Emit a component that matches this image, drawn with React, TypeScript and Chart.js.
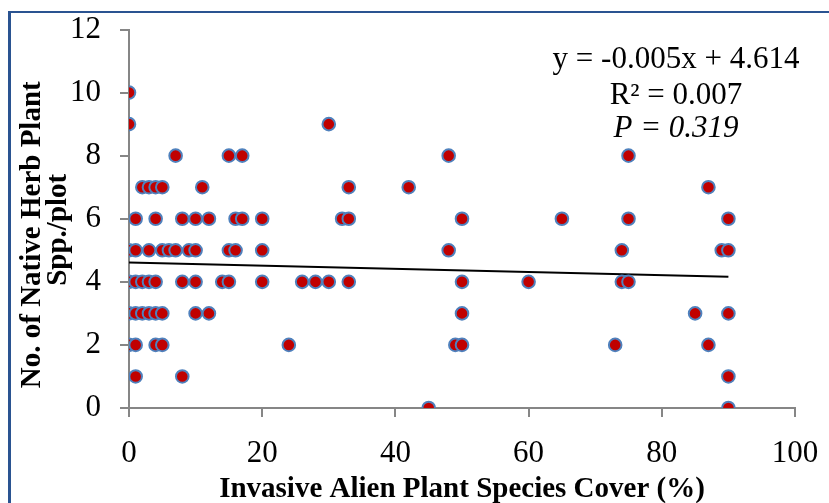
import React, { useEffect, useRef } from "react";
import { Chart, registerables } from "chart.js";

Chart.register(...registerables);

// Invasive alien plant cover (%) of each plot, grouped by its native herb count
const coverAt10 = [0];
const coverAt9 = [0, 30];
const coverAt8 = [7, 15, 17, 48, 75];
const coverAt7 = [2, 3, 4, 5, 11, 33, 42, 87];
const coverAt6 = [1, 4, 8, 10, 12, 16, 17, 20, 32, 33, 50, 65, 75, 90];
const coverAt5 = [0, 1, 3, 5, 6, 7, 9, 10, 15, 16, 20, 48, 74, 89, 90];
const coverAt4 = [0, 1, 2, 3, 4, 8, 10, 14, 15, 20, 26, 28, 30, 33, 50, 60, 74, 75];
const coverAt3 = [0, 1, 2, 3, 4, 5, 10, 12, 50, 85, 90];
const coverAt2 = [0, 1, 4, 5, 24, 49, 50, 73, 87];
const coverAt1 = [1, 8, 90];
const coverAt0 = [45, 90];

const herbCounts = [10, 9, 8, 7, 6, 5, 4, 3, 2, 1, 0];
const coverGroups = [coverAt10, coverAt9, coverAt8, coverAt7, coverAt6, coverAt5, coverAt4, coverAt3, coverAt2, coverAt1, coverAt0];

// Linear trend y = slope * x + intercept
const trendSlope = -0.005;
const trendIntercept = 4.614;
const trendX = [0, 90];

const xMin = 0;
const xMax = 100;
const xStep = 20;
const yMin = 0;
const yMax = 12;
const yStep = 2;

const xTitle = "Invasive Alien Plant Species Cover (%)";
const yTitleLines = ["No. of Native Herb Plant", "Spp./plot"];
const equationText = "y = -0.005x + 4.614";
const r2Text = "R² = 0.007";
const pText = "P = 0.319";

const SERIF = '"Liberation Serif", "Times New Roman", serif';

export default function App() {
  const canvasRef = useRef<HTMLCanvasElement | null>(null);

  useEffect(() => {
    document.body.style.margin = "0";
    const canvas = canvasRef.current;
    if (!canvas) return;

    const points: { x: number; y: number }[] = [];
    herbCounts.forEach((count, i) => {
      coverGroups[i].forEach((cover) => points.push({ x: cover, y: count }));
    });
    const trend = trendX.map((x) => ({ x, y: trendSlope * x + trendIntercept }));

    const decorations = {
      id: "decorations",
      beforeDraw(chart: any) {
        const ctx = chart.ctx;
        ctx.save();
        ctx.fillStyle = "#2A5391";
        ctx.fillRect(8, 11, 3, 600);
        ctx.fillRect(8, 11, 900, 2);
        ctx.restore();
      },
      afterDraw(chart: any) {
        const ctx = chart.ctx;
        ctx.save();
        ctx.fillStyle = "#000";
        ctx.textAlign = "center";
        ctx.textBaseline = "alphabetic";
        ctx.font = `31px ${SERIF}`;
        ctx.fillText(equationText, 676, 68);
        ctx.fillText(r2Text, 676, 104);
        ctx.font = `italic 31px ${SERIF}`;
        ctx.fillText(pText, 676, 137);
        ctx.restore();

        // y-axis title, two rotated lines
        const mid = (chart.chartArea.top + chart.chartArea.bottom) / 2;
        ctx.save();
        ctx.fillStyle = "#000";
        ctx.font = `bold 29px ${SERIF}`;
        ctx.textAlign = "center";
        ctx.textBaseline = "middle";
        ctx.translate(33, mid + 16);
        ctx.rotate(-Math.PI / 2);
        ctx.fillText(yTitleLines[0], 0, 0);
        ctx.fillText(yTitleLines[1], 5, 26);
        ctx.restore();
      },
    };

    const chart = new Chart(canvas, {
      type: "scatter",
      data: {
        datasets: [
          {
            data: points,
            backgroundColor: "#C00000",
            borderColor: "#4F81BD",
            borderWidth: 2,
            pointRadius: 6.3,
            pointHoverRadius: 6.3,
            order: 0,
          },
          {
            type: "line",
            data: trend,
            borderColor: "#000000",
            borderWidth: 2,
            pointRadius: 0,
            fill: false,
            order: 1,
          } as any,
        ],
      },
      options: {
        responsive: false,
        animation: false,
        events: [],
        layout: { padding: { left: 0, top: 29.5, right: 34, bottom: 0 } },
        plugins: {
          legend: { display: false },
          tooltip: { enabled: false },
        },
        scales: {
          x: {
            type: "linear",
            min: xMin,
            max: xMax,
            ticks: {
              stepSize: xStep,
              color: "#000",
              font: { family: SERIF, size: 31, lineHeight: 1.2 },
              padding: 18,
              maxRotation: 0,
            },
            grid: {
              drawOnChartArea: false,
              drawTicks: true,
              tickLength: 9,
              color: "#868686",
              lineWidth: 2,
            },
            border: { display: true, color: "#868686", width: 2 },
            title: {
              display: true,
              text: xTitle,
              color: "#000",
              font: { family: SERIF, size: 29, weight: "bold", lineHeight: "24px" },
              padding: { top: 0, bottom: 1 },
            },
            afterFit(scale: any) {
              scale.height = 95;
              scale.paddingLeft = 0;
              scale.paddingRight = 0;
            },
          },
          y: {
            type: "linear",
            min: yMin,
            max: yMax,
            ticks: {
              stepSize: yStep,
              color: "#000",
              font: { family: SERIF, size: 31, lineHeight: 1.2 },
              padding: 19,
            },
            grid: {
              drawOnChartArea: false,
              drawTicks: true,
              tickLength: 9,
              color: "#868686",
              lineWidth: 2,
            },
            border: { display: true, color: "#868686", width: 2 },
            title: { display: false },
            afterFit(scale: any) {
              scale.width = 129;
              scale.paddingTop = 0;
              scale.paddingBottom = 0;
            },
          },
        },
      },
      plugins: [decorations],
    } as any);

    return () => chart.destroy();
  }, []);

  return (
    <div style={{ width: 829, height: 503, position: "relative", overflow: "hidden" }}>
      <canvas ref={canvasRef} width={829} height={503} style={{ display: "block" }} />
    </div>
  );
}
